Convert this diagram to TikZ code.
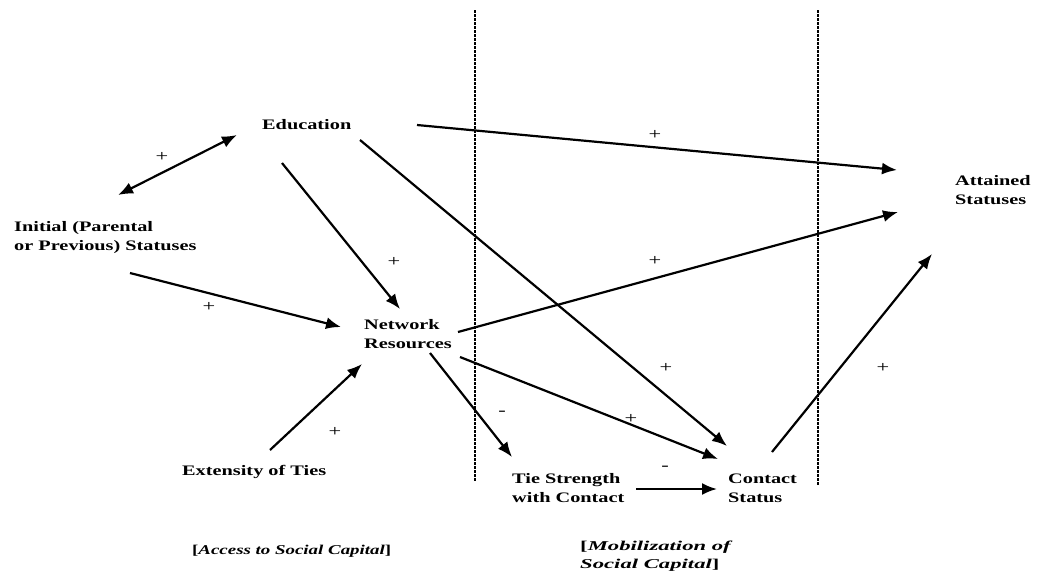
\documentclass[tikz,border=0pt]{standalone}
\usepackage{graphicx}
\usepackage{fontspec}
\setmainfont{Liberation Serif}[FakeStretch=1.4]
\usetikzlibrary{arrows.meta}
\begin{document}
\begin{tikzpicture}[x=1pt,y=-1pt,
  lbl/.style={inner sep=0pt,anchor=west,align=left,font=\fontsize{14.5}{19}\selectfont\bfseries},
  captxt/.style={inner sep=0pt,anchor=west,align=left,font=\fontsize{13.5}{18}\selectfont\bfseries},
  sgn/.style={inner sep=0pt,font=\fontsize{16}{16}\selectfont},
  arr/.style={line width=2.2pt,-{Latex[length=15pt,width=12pt]}},
  darr/.style={line width=2.2pt,{Latex[length=15pt,width=12pt]}-{Latex[length=15pt,width=12pt]}},
  sep/.style={line width=2.5pt,dash pattern=on 2.5pt off 1.5pt}]
\useasboundingbox (0,0) rectangle (1037,574);
% text nodes
\node[lbl] (edu) at (262,125) {Education};
\node[lbl] (init) at (14,238) {Initial (Parental\\or Previous) Statuses};
\node[lbl] (att) at (955,190) {Attained\\Statuses};
\node[lbl] (net) at (364,334) {Network\\Resources};
\node[lbl] (ext) at (182,472) {Extensity of Ties};
\node[lbl] (tie) at (512,488) {Tie Strength\\with Contact};
\node[lbl] (con) at (728,488) {Contact\\Status};
\node[captxt] (acc) at (192,551) {[\textit{Access to Social Capital}]};
\node[captxt] (mob) at (580,556) {\scalebox{1.2}[1]{[\textit{Mobilization of}}\\\scalebox{1.2}[1]{\textit{Social Capital}]}};
% separators
\coordinate (s1a) at (475,10); \coordinate (s1b) at (475,482);
\coordinate (s2a) at (818,10); \coordinate (s2b) at (818,486);
\draw[sep] (s1a) -- (s1b);
\draw[sep] (s2a) -- (s2b);
% arrow end points
\coordinate (iniA) at (118,195); \coordinate (eduA) at (237,135);
\coordinate (eduR) at (417,125); \coordinate (attT) at (897,170);
\coordinate (eduD) at (360,140); \coordinate (conT) at (727,446);
\coordinate (eduS) at (282,163); \coordinate (netT) at (400,309);
\coordinate (iniR) at (130,273); \coordinate (netL) at (341,327);
\coordinate (netR) at (458,332); \coordinate (attB) at (898,212);
\coordinate (netD) at (430,353); \coordinate (tieT) at (512,457);
\coordinate (netE) at (460,357); \coordinate (conL) at (718,459);
\coordinate (extT) at (270,450); \coordinate (netB) at (362,364);
\coordinate (tieR) at (636,489); \coordinate (conW) at (717,489);
\coordinate (conU) at (772,452); \coordinate (attU) at (932,254);
\draw[darr] (iniA) -- (eduA);
\draw[arr] (eduR) -- (attT);
\draw[arr] (eduD) -- (conT);
\draw[arr] (eduS) -- (netT);
\draw[arr] (iniR) -- (netL);
\draw[arr] (netR) -- (attB);
\draw[arr] (netD) -- (tieT);
\draw[arr] (netE) -- (conL);
\draw[arr] (extT) -- (netB);
\draw[arr] (tieR) -- (conW);
\draw[arr] (conU) -- (attU);
% signs
\node[sgn] (p1) at (162,157) {+};
\node[sgn] (p2) at (655,135) {+};
\node[sgn] (p3) at (394,262) {+};
\node[sgn] (p4) at (655,261) {+};
\node[sgn] (p5) at (209,307) {+};
\node[sgn] (p6) at (335,432) {+};
\node[sgn] (p7) at (666,368) {+};
\node[sgn] (p8) at (631,419) {+};
\node[sgn] (p9) at (883,368) {+};
\node[sgn] (m1) at (502,413) {-};
\node[sgn] (m2) at (665,468) {-};
\end{tikzpicture}
\end{document}
